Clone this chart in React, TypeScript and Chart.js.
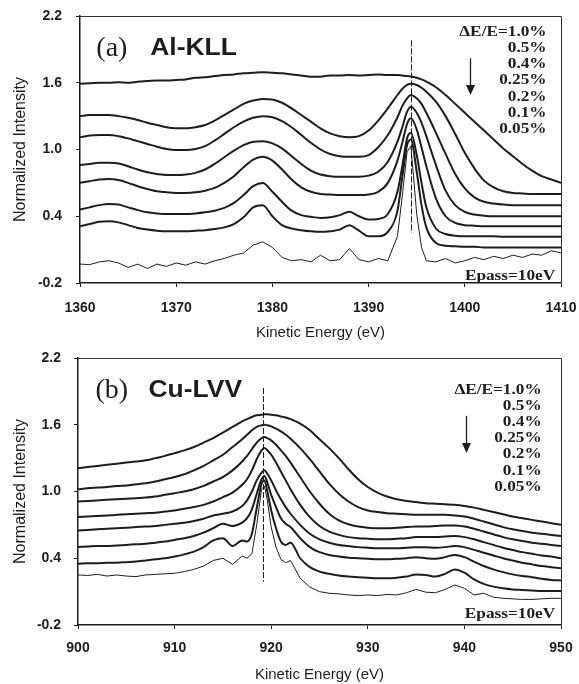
import React, { useEffect, useRef } from 'react';
import { Chart, registerables } from 'chart.js';

Chart.register(...registerables);

const W = 579;
const H = 342;
const INK = '#1d1d1d';
const SANS = "'Liberation Sans', Arial, Helvetica, sans-serif";
const SERIF = "'Liberation Serif', 'Times New Roman', serif";

// ---------- shared ----------
const yTickValues = [-0.2, 0.4, 1.0, 1.6, 2.2];
const resolutionLabels = ['ΔE/E=1.0%', '0.5%', '0.4%', '0.25%', '0.2%', '0.1%', '0.05%'];
const passLabel = 'Epass=10eV';
const xTitle = 'Kinetic Energy (eV)';
const yTitle = 'Normalized Intensity';

// ---------- (a) Al-KLL ----------
const alTicks = [1360, 1370, 1380, 1390, 1400, 1410];
const alEnergy = [
  1360, 1361, 1362, 1363, 1364, 1365, 1366, 1367, 1368, 1369,
  1370, 1371, 1372, 1373, 1374, 1375, 1376, 1377, 1378, 1379,
  1380, 1381, 1382, 1383, 1384, 1385, 1386, 1387, 1388, 1389,
  1390, 1391, 1392, 1393, 1393.5, 1394, 1394.4, 1395, 1395.5, 1396,
  1397, 1398, 1399, 1400, 1401, 1402, 1403, 1404, 1405, 1406,
  1407, 1408, 1409, 1410,
];
const alRes10 = [
  1.59, 1.595, 1.6, 1.6, 1.605, 1.6, 1.61, 1.615, 1.62, 1.62,
  1.625, 1.63, 1.645, 1.65, 1.66, 1.67, 1.675, 1.685, 1.69, 1.695,
  1.69, 1.685, 1.675, 1.665, 1.655, 1.655, 1.665, 1.665, 1.67, 1.665,
  1.67, 1.675, 1.67, 1.67, 1.665, 1.66, 1.655, 1.645, 1.63, 1.61,
  1.56, 1.49, 1.41, 1.33, 1.25, 1.17, 1.09, 1.01, 0.94, 0.87,
  0.81, 0.76, 0.73, 0.7,
];
const alRes05 = [
  1.3, 1.31, 1.31, 1.31, 1.3, 1.285, 1.265, 1.24, 1.22, 1.2,
  1.19, 1.19, 1.2, 1.22, 1.26, 1.31, 1.36, 1.41, 1.44, 1.455,
  1.45, 1.42, 1.37, 1.31, 1.25, 1.19, 1.145, 1.12, 1.11, 1.12,
  1.17, 1.26, 1.37, 1.49, 1.545, 1.58, 1.59, 1.58, 1.555, 1.52,
  1.43, 1.3, 1.14, 0.97, 0.83, 0.72, 0.66, 0.625, 0.61, 0.605,
  0.6, 0.6, 0.6, 0.6,
];
const alRes04 = [
  1.11, 1.125, 1.13, 1.13, 1.12, 1.1, 1.075, 1.05, 1.025, 1.005,
  0.995, 0.995, 1.005, 1.03, 1.08, 1.14, 1.2, 1.25, 1.285, 1.3,
  1.29, 1.255, 1.2, 1.13, 1.06, 1.0, 0.96, 0.94, 0.935, 0.935,
  0.95, 1.02, 1.13, 1.29, 1.39, 1.46, 1.49, 1.46, 1.41, 1.33,
  1.15, 0.96, 0.78, 0.65, 0.57, 0.53, 0.515, 0.505, 0.5, 0.5,
  0.5, 0.5, 0.5, 0.5,
];
const alRes025 = [
  0.86, 0.87, 0.88, 0.88, 0.875, 0.85, 0.82, 0.795, 0.78, 0.77,
  0.77, 0.775, 0.79, 0.82, 0.87, 0.93, 0.99, 1.04, 1.07, 1.075,
  1.055, 1.01, 0.94, 0.87, 0.81, 0.775, 0.76, 0.755, 0.755, 0.755,
  0.765, 0.8, 0.89, 1.07, 1.2, 1.34, 1.385, 1.33, 1.24, 1.12,
  0.86, 0.63, 0.5, 0.44, 0.415, 0.405, 0.4, 0.4, 0.4, 0.4,
  0.4, 0.4, 0.4, 0.4,
];
const alRes02 = [
  0.7, 0.715, 0.73, 0.735, 0.725, 0.7, 0.67, 0.645, 0.625, 0.615,
  0.61, 0.61, 0.615, 0.63, 0.655, 0.7, 0.76, 0.84, 0.91, 0.935,
  0.9, 0.82, 0.73, 0.66, 0.62, 0.6, 0.595, 0.59, 0.59, 0.59,
  0.595, 0.62, 0.7, 0.9, 1.06, 1.23, 1.28, 1.18, 1.02, 0.85,
  0.56, 0.4, 0.34, 0.32, 0.315, 0.31, 0.31, 0.31, 0.31, 0.31,
  0.31, 0.31, 0.31, 0.31,
];
const alRes01 = [
  0.46, 0.48, 0.5, 0.51, 0.505, 0.48, 0.455, 0.435, 0.425, 0.42,
  0.42, 0.42, 0.425, 0.435, 0.45, 0.475, 0.52, 0.59, 0.67, 0.7,
  0.62, 0.53, 0.45, 0.41, 0.395, 0.385, 0.39, 0.41, 0.44, 0.4,
  0.37, 0.375, 0.42, 0.62, 0.85, 1.1, 1.15, 0.95, 0.7, 0.48,
  0.29, 0.24, 0.225, 0.22, 0.22, 0.22, 0.22, 0.215, 0.215, 0.215,
  0.215, 0.215, 0.215, 0.215,
];
const alRes005 = [
  0.31, 0.33, 0.35, 0.355, 0.345, 0.32, 0.295, 0.28, 0.27, 0.265,
  0.265, 0.265, 0.27, 0.275, 0.285, 0.3, 0.33, 0.39, 0.48, 0.5,
  0.4, 0.32, 0.29, 0.275, 0.265, 0.26, 0.265, 0.28, 0.32, 0.27,
  0.22, 0.22, 0.26, 0.45, 0.75, 1.04, 1.09, 0.8, 0.5, 0.3,
  0.16, 0.135, 0.13, 0.125, 0.125, 0.12, 0.12, 0.12, 0.12, 0.12,
  0.12, 0.12, 0.12, 0.12,
];
const alPass10 = [
  -0.03, -0.035, -0.01, 0.0, -0.02, -0.06, -0.03, -0.07, -0.03, -0.05,
  -0.02, -0.04, -0.01, -0.03, 0.0, 0.02, 0.05, 0.07, 0.14, 0.17,
  0.12, 0.03, 0.0, 0.01, -0.01, 0.05, 0.0, 0.01, 0.11, 0.01,
  -0.01, 0.02, 0.0, 0.22, 0.58, 0.98, 1.03, 0.42, 0.12, 0.0,
  -0.01, 0.02, -0.02, 0.0, 0.03, 0.01, 0.04, 0.02, 0.05, 0.03,
  0.06, 0.05, 0.09, 0.07,
];

// ---------- (b) Cu-LVV ----------
const cuTicks = [900, 910, 920, 930, 940, 950];
const cuEnergy = [
  900, 901, 902, 903, 904, 905, 906, 907, 908, 909,
  910, 911, 912, 913, 914, 915, 916, 917, 917.5, 918,
  918.5, 919, 919.3, 919.6, 920, 920.5, 921, 921.5, 922, 923,
  924, 925, 926, 927, 928, 929, 930, 931, 932, 933,
  934, 935, 936, 937, 938, 939, 940, 941, 942, 943,
  944, 945, 946, 947, 948, 949, 950,
];
const cuRes10 = [
  1.21, 1.22, 1.23, 1.24, 1.25, 1.26, 1.27, 1.28, 1.3, 1.32,
  1.345, 1.37, 1.4, 1.44, 1.48, 1.53, 1.58, 1.63, 1.65, 1.67,
  1.685, 1.69, 1.695, 1.695, 1.69, 1.685, 1.675, 1.665, 1.65, 1.61,
  1.55, 1.47, 1.39, 1.3, 1.2, 1.11, 1.04, 0.99, 0.955, 0.93,
  0.915, 0.905, 0.895, 0.89, 0.885, 0.88, 0.87, 0.855, 0.835, 0.815,
  0.795, 0.775, 0.76, 0.745, 0.73, 0.715, 0.7,
];
const cuRes05 = [
  1.02, 1.03, 1.035, 1.04, 1.05, 1.055, 1.065, 1.075, 1.09, 1.11,
  1.13, 1.155, 1.19, 1.23, 1.28, 1.33, 1.4, 1.47, 1.51, 1.55,
  1.58, 1.595, 1.6, 1.595, 1.585, 1.565, 1.54, 1.51, 1.475, 1.39,
  1.29, 1.18, 1.07, 0.98, 0.91, 0.86, 0.83, 0.815, 0.805, 0.8,
  0.795, 0.79, 0.79, 0.79, 0.79, 0.785, 0.775, 0.755, 0.73, 0.705,
  0.68, 0.66, 0.645, 0.63, 0.62, 0.61, 0.6,
];
const cuRes04 = [
  0.91, 0.915, 0.92, 0.925, 0.93, 0.935, 0.94, 0.945, 0.955, 0.97,
  0.985, 1.0, 1.02, 1.05, 1.09, 1.13, 1.19, 1.27, 1.32, 1.38,
  1.44, 1.48, 1.49, 1.48, 1.46, 1.42, 1.37, 1.32, 1.26, 1.13,
  1.0, 0.89, 0.8, 0.74, 0.705, 0.685, 0.675, 0.67, 0.67, 0.675,
  0.68, 0.685, 0.685, 0.69, 0.695, 0.695, 0.685, 0.665, 0.64, 0.615,
  0.59, 0.57, 0.555, 0.54, 0.53, 0.52, 0.51,
];
const cuRes025 = [
  0.77, 0.775, 0.78, 0.785, 0.79, 0.795, 0.8, 0.805, 0.81, 0.82,
  0.83, 0.845, 0.86, 0.88, 0.91, 0.95, 0.99, 1.06, 1.11, 1.19,
  1.29, 1.37, 1.39, 1.37, 1.33, 1.26, 1.18, 1.1, 1.02, 0.88,
  0.77, 0.69, 0.64, 0.61, 0.59, 0.58, 0.575, 0.57, 0.57, 0.575,
  0.58, 0.59, 0.59, 0.59, 0.595, 0.6, 0.59, 0.57, 0.545, 0.52,
  0.495, 0.475, 0.455, 0.44, 0.425, 0.415, 0.4,
];
const cuRes02 = [
  0.65, 0.655, 0.66, 0.665, 0.67, 0.675, 0.68, 0.685, 0.69, 0.7,
  0.71, 0.72, 0.735, 0.755, 0.785, 0.8, 0.82, 0.87, 0.92, 1.0,
  1.1, 1.17, 1.19, 1.16, 1.1, 1.01, 0.93, 0.86, 0.8, 0.7,
  0.62, 0.57, 0.54, 0.52, 0.51, 0.5, 0.495, 0.49, 0.49, 0.49,
  0.495, 0.5, 0.5, 0.495, 0.5, 0.51, 0.5, 0.475, 0.45, 0.425,
  0.4, 0.38, 0.36, 0.345, 0.33, 0.32, 0.31,
];
const cuRes01 = [
  0.5, 0.505, 0.51, 0.51, 0.515, 0.52, 0.525, 0.53, 0.54, 0.55,
  0.565, 0.58, 0.6, 0.63, 0.67, 0.71, 0.69, 0.72, 0.76, 0.84,
  0.98, 1.11, 1.14, 1.08, 0.97, 0.86, 0.76, 0.71, 0.68, 0.58,
  0.5, 0.455, 0.43, 0.415, 0.405, 0.4, 0.395, 0.39, 0.39, 0.395,
  0.4, 0.41, 0.4, 0.395, 0.41, 0.43, 0.41, 0.37, 0.33, 0.3,
  0.275, 0.255, 0.24, 0.23, 0.215, 0.205, 0.2,
];
const cuRes005 = [
  0.35, 0.355, 0.355, 0.36, 0.36, 0.365, 0.37, 0.38, 0.39, 0.4,
  0.415, 0.435, 0.46, 0.5, 0.56, 0.58, 0.51, 0.56, 0.55, 0.62,
  0.85, 1.07, 1.1, 1.0, 0.83, 0.67, 0.55, 0.52, 0.54, 0.4,
  0.32, 0.28, 0.26, 0.245, 0.235, 0.23, 0.225, 0.22, 0.22, 0.225,
  0.235, 0.255, 0.25, 0.235, 0.26, 0.3, 0.27, 0.21, 0.17, 0.145,
  0.13, 0.12, 0.115, 0.11, 0.105, 0.105, 0.105,
];
const cuPass10 = [
  0.25, 0.245, 0.255, 0.24, 0.25, 0.24, 0.235, 0.25, 0.255, 0.26,
  0.265, 0.28, 0.3, 0.33, 0.38, 0.4, 0.345, 0.42, 0.4, 0.44,
  0.7, 1.02, 1.05, 0.92, 0.68, 0.5, 0.39, 0.36, 0.38, 0.22,
  0.14, 0.1, 0.085, 0.08, 0.07, 0.065, 0.07, 0.065, 0.075, 0.07,
  0.09, 0.12, 0.095, 0.09, 0.12, 0.16, 0.13, 0.07, 0.085, 0.05,
  0.04, 0.035, 0.03, 0.03, 0.035, 0.04, 0.04,
];

type Panel = {
  tag: string;
  name: string;
  x: number[];
  series: number[][];
  ticks: number[];
  xMin: number;
  xMax: number;
  left: number;
  tickPadX: number;
  tickPadY: number;
  tagX: number;
  nameX: number;
  headY: number;
  peak: number;
  dashTop: number;
  dashBottom: number;
  legendX: number;
  legendTop: number;
  legendStep: number;
  arrowX: number;
  arrowTop: number;
  arrowTip: number;
  passX: number;
  passY: number;
};

const alPanel: Panel = {
  tag: '(a)', name: 'Al-KLL',
  x: alEnergy,
  series: [alRes10, alRes05, alRes04, alRes025, alRes02, alRes01, alRes005, alPass10],
  ticks: alTicks, xMin: 1360, xMax: 1410,
  left: 80, tickPadX: 13, tickPadY: 14,
  tagX: 1361.7, nameX: 1367.3, headY: 1.91,
  peak: 1394.4, dashTop: 1.98, dashBottom: 0.25,
  legendX: 1408.5, legendTop: 2.056, legendStep: 0.1456,
  arrowX: 1400.5, arrowTop: 1.82, arrowTip: 1.49,
  passX: 1409.4, passY: -0.134,
};

const cuPanel: Panel = {
  tag: '(b)', name: 'Cu-LVV',
  x: cuEnergy,
  series: [cuRes10, cuRes05, cuRes04, cuRes025, cuRes02, cuRes01, cuRes005, cuPass10],
  ticks: cuTicks, xMin: 900, xMax: 950,
  left: 78, tickPadX: 11, tickPadY: 13,
  tagX: 901.8, nameX: 907.3, headY: 1.91,
  peak: 919.1, dashTop: 1.93, dashBottom: 0.19,
  legendX: 948.0, legendTop: 1.915, legendStep: 0.1456,
  arrowX: 940.2, arrowTop: 1.68, arrowTip: 1.345,
  passX: 949.4, passY: -0.1,
};

function stretchedText(ctx: CanvasRenderingContext2D, text: string, x: number, y: number, font: string, align: CanvasTextAlign, sx: number) {
  ctx.save();
  ctx.font = font;
  ctx.textAlign = align;
  ctx.textBaseline = 'middle';
  ctx.fillStyle = INK;
  ctx.translate(x, y);
  ctx.scale(sx, 1);
  ctx.fillText(text, 0, 0);
  ctx.restore();
}

function annotations(p: Panel) {
  return {
    id: 'annotations',
    afterDraw(chart: any) {
      const { ctx, chartArea: a } = chart;
      const xs = chart.scales.x;
      const ys = chart.scales.y;
      ctx.save();
      // frame top and right
      ctx.strokeStyle = '#333';
      ctx.lineWidth = 1;
      ctx.beginPath();
      ctx.moveTo(a.left, a.top + 0.5);
      ctx.lineTo(a.right + 0.5, a.top + 0.5);
      ctx.lineTo(a.right + 0.5, a.bottom);
      ctx.stroke();
      // dashed peak marker
      const px = Math.round(xs.getPixelForValue(p.peak)) + 0.5;
      ctx.strokeStyle = INK;
      ctx.setLineDash([6, 2]);
      ctx.beginPath();
      ctx.moveTo(px, ys.getPixelForValue(p.dashTop));
      ctx.lineTo(px, ys.getPixelForValue(p.dashBottom));
      ctx.stroke();
      ctx.setLineDash([]);
      // arrow
      const ax = Math.round(xs.getPixelForValue(p.arrowX)) + 0.5;
      const at = ys.getPixelForValue(p.arrowTop);
      const tip = ys.getPixelForValue(p.arrowTip);
      ctx.lineWidth = 1.3;
      ctx.beginPath();
      ctx.moveTo(ax, at);
      ctx.lineTo(ax, tip - 8);
      ctx.stroke();
      ctx.fillStyle = INK;
      ctx.beginPath();
      ctx.moveTo(ax - 4.5, tip - 10);
      ctx.lineTo(ax + 4.5, tip - 10);
      ctx.lineTo(ax, tip);
      ctx.closePath();
      ctx.fill();
      ctx.restore();
      // headings
      const hy = ys.getPixelForValue(p.headY);
      stretchedText(ctx, p.tag, xs.getPixelForValue(p.tagX), hy, `28px ${SERIF}`, 'left', 1);
      stretchedText(ctx, p.name, xs.getPixelForValue(p.nameX), hy, `bold 23px ${SANS}`, 'left', 1.15);
      // resolution list
      const lx = xs.getPixelForValue(p.legendX);
      resolutionLabels.forEach((t, i) => {
        const ly = ys.getPixelForValue(p.legendTop - i * p.legendStep);
        stretchedText(ctx, t, lx, ly, `bold 15px ${SERIF}`, 'right', 1.15);
      });
      stretchedText(ctx, passLabel, xs.getPixelForValue(p.passX), ys.getPixelForValue(p.passY), `bold 15px ${SERIF}`, 'right', 1.15);
    },
  };
}

function buildConfig(p: Panel): any {
  const last = p.series.length - 1;
  const datasets = p.series.map((vals, i) => ({
    data: p.x.map((x, j) => ({ x, y: vals[j] })),
    borderColor: INK,
    borderWidth: i === last ? 1 : 2,
    pointRadius: 0,
    fill: false,
    tension: i === last ? 0 : 0.4,
    cubicInterpolationMode: i === last ? 'default' : 'monotone',
  }));
  const tickFont = { family: SANS, size: 14, weight: 'bold' as const };
  return {
    type: 'line',
    data: { datasets },
    options: {
      animation: false,
      responsive: false,
      devicePixelRatio: 1,
      layout: { padding: { top: 16, right: W - 561, left: 0, bottom: 0 } },
      plugins: { legend: { display: false }, tooltip: { enabled: false } },
      scales: {
        x: {
          type: 'linear',
          min: p.xMin,
          max: p.xMax,
          afterBuildTicks: (s: any) => { s.ticks = p.ticks.map((v) => ({ value: v })); },
          afterFit: (s: any) => { s.height = H - 283; s.paddingLeft = 0; s.paddingRight = 0; },
          ticks: { font: tickFont, color: INK, padding: p.tickPadX, maxRotation: 0, autoSkip: false, callback: (v: any) => String(v) },
          grid: { drawOnChartArea: false, drawTicks: true, tickLength: 4, color: INK },
          border: { display: true, color: INK, width: 1.5 },
          title: { display: true, text: xTitle, color: INK, font: { family: SANS, size: 15 }, padding: { top: 0, bottom: 0 } },
        },
        y: {
          type: 'linear',
          min: -0.2,
          max: 2.2,
          afterBuildTicks: (s: any) => { s.ticks = yTickValues.map((v) => ({ value: v })); },
          afterFit: (s: any) => { s.width = p.left; s.paddingTop = 0; s.paddingBottom = 0; },
          ticks: { font: tickFont, color: INK, padding: p.tickPadY, autoSkip: false, callback: (v: any) => Number(v).toFixed(1) },
          grid: { drawOnChartArea: false, drawTicks: true, tickLength: 4, color: INK },
          border: { display: true, color: INK, width: 1.5 },
          title: { display: true, text: yTitle, color: INK, font: { family: SANS, size: 16 }, padding: { top: 11, bottom: 0 } },
        },
      },
    },
    plugins: [annotations(p)],
  };
}

function PanelChart({ panel }: { panel: Panel }) {
  const ref = useRef<HTMLCanvasElement>(null);
  useEffect(() => {
    if (!ref.current) return;
    const chart = new Chart(ref.current, buildConfig(panel));
    return () => chart.destroy();
  }, [panel]);
  return <canvas ref={ref} width={W} height={H} style={{ display: 'block', width: W, height: H }} />;
}

export default function App() {
  return (
    <div style={{ position: 'absolute', left: 0, top: 0, width: W, height: 2 * H, background: '#fff' }}>
      <PanelChart panel={alPanel} />
      <PanelChart panel={cuPanel} />
    </div>
  );
}
